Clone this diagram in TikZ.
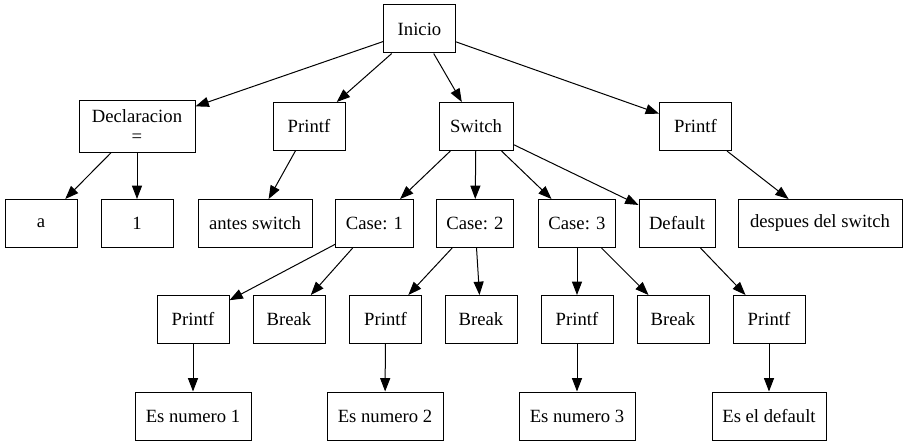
\documentclass[tikz,border=0pt]{standalone}
\usepackage{fontspec}
\setmainfont{Liberation Serif}
\usetikzlibrary{arrows.meta}
\begin{document}
\begin{tikzpicture}[x=0.75pt,y=-0.75pt,
  box/.style={draw=black,line width=0.75pt,minimum width=54pt,minimum height=36pt,inner sep=2pt,align=center,font=\fontsize{14}{15}\selectfont},
  edge/.style={line width=0.75pt,-{Triangle[length=10pt,width=7.5pt]}}]
\useasboundingbox (0,0) rectangle (907,445);
\node[box] (ini) at (419.5,29) {Inicio};
\node[box,minimum width=87pt,minimum height=38.5pt] (decl) at (137,126.5) {Declaracion\\=};
\node[box] (p1) at (309,126.5) {Printf};
\node[box,minimum width=55.5pt] (sw) at (476,126.5) {Switch};
\node[box] (p2) at (695.5,126.5) {Printf};
\node[box] (a) at (41,223.5) {a};
\node[box] (one) at (137,223.5) {1};
\node[box,minimum width=85.5pt] (antes) at (255,223.5) {antes switch};
\node[box,minimum width=58pt] (c1) at (374.5,223.5) {Case: 1};
\node[box,minimum width=58pt] (c2) at (475,223.5) {Case: 2};
\node[box,minimum width=58pt] (c3) at (577,223.5) {Case: 3};
\node[box,minimum width=57pt] (def) at (677,223.5) {Default};
\node[box,minimum width=123pt] (desp) at (820,223.5) {despues del switch};
\node[box] (pr1) at (193,319.5) {Printf};
\node[box] (br1) at (289,319.5) {Break};
\node[box] (pr2) at (385.5,319.5) {Printf};
\node[box] (br2) at (481,319.5) {Break};
\node[box] (pr3) at (577,319.5) {Printf};
\node[box] (br3) at (673,319.5) {Break};
\node[box] (pr4) at (769,319.5) {Printf};
\node[box,minimum width=87pt] (e1) at (193,416) {Es numero 1};
\node[box,minimum width=87pt] (e2) at (385,416) {Es numero 2};
\node[box,minimum width=87pt] (e3) at (577,416) {Es numero 3};
\node[box,minimum width=85.5pt] (ed) at (769,416) {Es el default};
\draw[edge] (ini) -- (decl);
\draw[edge] (ini) -- (p1);
\draw[edge] (ini) -- (sw);
\draw[edge] (ini) -- (p2);
\draw[edge] (decl) -- (a);
\draw[edge] (decl) -- (one);
\draw[edge] (p1) -- (antes);
\draw[edge] (sw) -- (c1);
\draw[edge] (sw) -- (c2);
\draw[edge] (sw) -- (c3);
\draw[edge] (sw) -- (def);
\draw[edge] (p2) -- (desp);
\draw[edge] (c1) -- (pr1);
\draw[edge] (c1) -- (br1);
\draw[edge] (c2) -- (pr2);
\draw[edge] (c2) -- (br2);
\draw[edge] (c3) -- (pr3);
\draw[edge] (c3) -- (br3);
\draw[edge] (def) -- (pr4);
\draw[edge] (pr1) -- (e1);
\draw[edge] (pr2) -- (e2);
\draw[edge] (pr3) -- (e3);
\draw[edge] (pr4) -- (ed);
\end{tikzpicture}
\end{document}
